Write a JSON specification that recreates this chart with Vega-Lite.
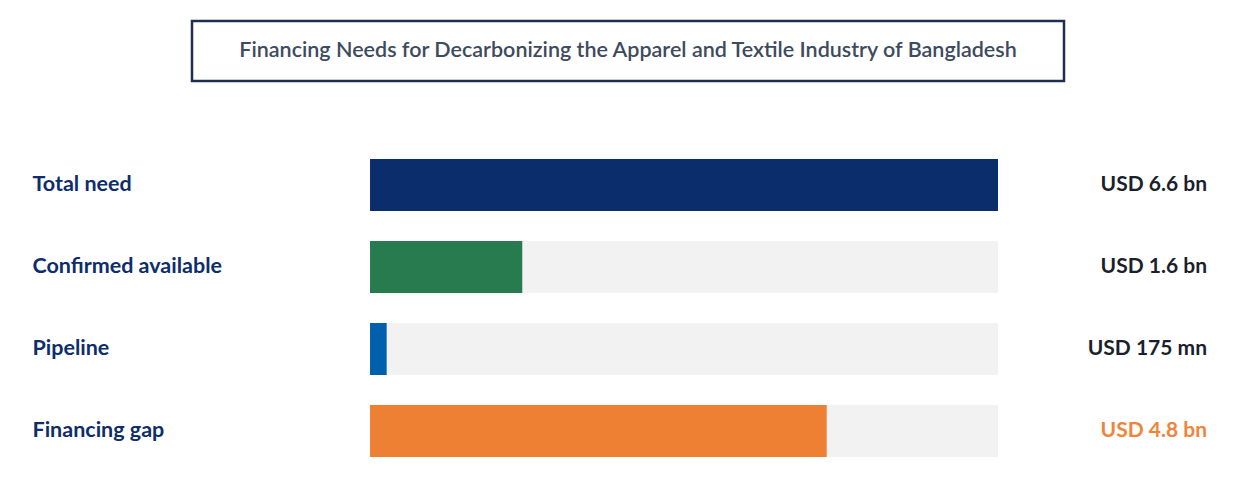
{
  "$schema": "https://vega.github.io/schema/vega-lite/v6.json",
  "background": "white",
  "padding": {"left": 32, "top": 19, "right": 43, "bottom": 13},
  "config": {"font": "Lato", "view": {"stroke": null}},
  "spacing": 61,
  "vconcat": [
    {
      "width": 872,
      "height": 60,
      "view": {"stroke": "#1f2d50", "strokeWidth": 2.5},
      "data": {"values": [{"heading": "Financing Needs for Decarbonizing the Apparel and Textile Industry of Bangladesh"}]},
      "mark": {"type": "text", "font": "Lato", "fontSize": 21.5, "fontWeight": 600, "color": "#3e4a5e", "baseline": "middle", "align": "center"},
      "encoding": {"text": {"field": "heading"}}
    },
    {
      "width": 806,
      "height": 328,
      "data": {"values": [
        {"category": "Total need", "value": 6.6, "label": "USD 6.6 bn"},
        {"category": "Confirmed available", "value": 1.6, "label": "USD 1.6 bn"},
        {"category": "Pipeline", "value": 0.175, "label": "USD 175 mn"},
        {"category": "Financing gap", "value": 4.8, "label": "USD 4.8 bn"}
      ]},
      "transform": [{"joinaggregate": [{"op": "max", "field": "value", "as": "total"}]}],
      "encoding": {
        "y": {
          "field": "category",
          "type": "nominal",
          "sort": null,
          "title": null,
          "scale": {"paddingInner": 0.366, "paddingOuter": 0.183},
          "axis": {
            "ticks": false,
            "domain": false,
            "labelAlign": "left",
            "labelPadding": 160,
            "labelFont": "Lato",
            "labelFontSize": 21.5,
            "labelFontWeight": "bold",
            "labelColor": "#0d2d6b",
            "labelLimit": 0
          }
        }
      },
      "layer": [
        {
          "mark": {"type": "bar", "color": "#f2f2f2"},
          "encoding": {
            "x": {"field": "total", "type": "quantitative", "axis": null, "scale": {"domain": [-1.871, 6.6], "nice": false, "zero": true}}
          }
        },
        {
          "mark": {"type": "bar"},
          "encoding": {
            "x": {"field": "value", "type": "quantitative"},
            "color": {
              "field": "category",
              "type": "nominal",
              "legend": null,
              "scale": {
                "domain": ["Total need", "Confirmed available", "Pipeline", "Financing gap"],
                "range": ["#0c2d6b", "#287a4f", "#0060ae", "#ee8034"]
              }
            }
          }
        },
        {
          "mark": {"type": "text", "align": "right", "baseline": "middle", "dx": 209, "font": "Lato", "fontSize": 21, "fontWeight": "bold"},
          "encoding": {
            "x": {"field": "total", "type": "quantitative"},
            "text": {"field": "label"},
            "color": {
              "condition": {"test": "datum.category === 'Financing gap'", "value": "#f0843a"},
              "value": "#1b1f2b"
            }
          }
        }
      ]
    }
  ]
}
